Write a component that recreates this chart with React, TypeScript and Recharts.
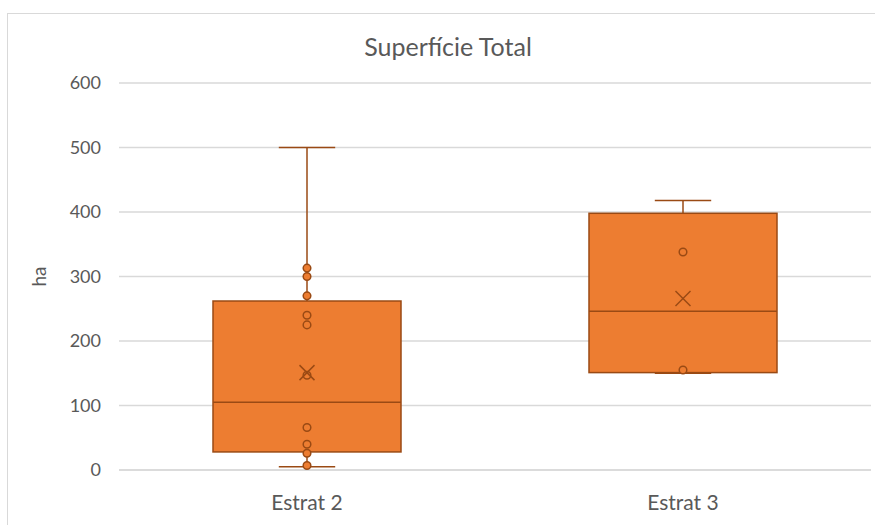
import React from 'react';
import { ComposedChart, Bar, Scatter, XAxis, YAxis, CartesianGrid, Label } from 'recharts';

// box-and-whisker stats
const categories = ['Estrat 2', 'Estrat 3'];
const mins = [5, 150];
const q1s = [28, 151];
const medians = [105, 246];
const q3s = [262, 398];
const maxes = [500, 418];
const means = [151, 266];
const estrat2Points = [313, 300, 270, 240, 225, 147, 66, 40, 26, 7];
const estrat3Points = [338, 155];
const yTicks = [0, 100, 200, 300, 400, 500, 600];

const FILL = '#ED7D31';
const LINE = '#9A4A14';
const TEXT = '#595959';
const GRID = '#D9D9D9';
const FONT = 'Lato, sans-serif';

const boxData = categories.map((cat, i) => ({
  cat,
  min: mins[i],
  q1: q1s[i],
  median: medians[i],
  q3: q3s[i],
  max: maxes[i],
}));

const pointData = [
  ...estrat2Points.map((value) => ({ cat: categories[0], value })),
  ...estrat3Points.map((value) => ({ cat: categories[1], value })),
];

const meanData = categories.map((cat, i) => ({ cat, value: means[i] }));

// bar spans min..max, so map the other stats inside that pixel range
const BoxShape = (props: any) => {
  const { x, y, width, height, payload } = props;
  const top = Math.min(y, y + height);
  const bottom = Math.max(y, y + height);
  const { min, q1, median, q3, max } = payload;
  const py = (v: number) => bottom - ((bottom - top) * (v - min)) / (max - min);
  const cx = x + width / 2;
  const capHalf = width * 0.15;
  return (
    <g>
      <line x1={cx} x2={cx} y1={py(max)} y2={py(q3)} stroke={LINE} strokeWidth={1.5} />
      <line x1={cx} x2={cx} y1={py(q1)} y2={py(min)} stroke={LINE} strokeWidth={1.5} />
      <line x1={cx - capHalf} x2={cx + capHalf} y1={py(max)} y2={py(max)} stroke={LINE} strokeWidth={1.5} />
      <line x1={cx - capHalf} x2={cx + capHalf} y1={py(min)} y2={py(min)} stroke={LINE} strokeWidth={1.5} />
      <rect x={x} y={py(q3)} width={width} height={py(q1) - py(q3)} fill={FILL} stroke={LINE} strokeWidth={1.5} />
      <line x1={x} x2={x + width} y1={py(median)} y2={py(median)} stroke={LINE} strokeWidth={1.5} />
    </g>
  );
};

const PointShape = (props: any) => (
  <circle cx={props.cx} cy={props.cy} r={3.8} fill={FILL} stroke={LINE} strokeWidth={1.5} />
);

const MeanShape = (props: any) => {
  const { cx, cy } = props;
  const s = 7.5;
  return (
    <g stroke={LINE} strokeWidth={1.5}>
      <line x1={cx - s} y1={cy - s} x2={cx + s} y2={cy + s} />
      <line x1={cx - s} y1={cy + s} x2={cx + s} y2={cy - s} />
    </g>
  );
};

export default function App() {
  return (
    <div style={{ width: 875, height: 525, boxSizing: 'border-box', paddingTop: 13, paddingLeft: 7, background: '#fff' }}>
      <style>{'body { margin: 0; }'}</style>
      <div
        style={{
          position: 'relative',
          width: 867,
          height: 511,
          borderTop: `1px solid ${GRID}`,
          borderLeft: `1px solid ${GRID}`,
          fontFamily: FONT,
        }}
      >
        <div
          style={{
            position: 'absolute',
            top: 17,
            left: 0,
            width: 880,
            textAlign: 'center',
            fontSize: 25,
            lineHeight: '30px',
            color: TEXT,
          }}
        >
          Superfície Total
        </div>
        <ComposedChart
          width={866}
          height={505}
          data={boxData}
          margin={{ top: 69, right: 3, left: 0, bottom: 19 }}
          barCategoryGap="25%"
        >
          <CartesianGrid vertical={false} stroke={GRID} strokeWidth={1.5} />
          <XAxis
            dataKey="cat"
            allowDuplicatedCategory={false}
            axisLine={{ stroke: GRID, strokeWidth: 1.5 }}
            tickLine={false}
            tickMargin={19}
            tick={{ fontSize: 21, fill: TEXT, fontFamily: FONT }}
          />
          <YAxis
            type="number"
            domain={[0, 600]}
            ticks={yTicks}
            width={111}
            axisLine={false}
            tickLine={false}
            tickMargin={12}
            tick={{ fontSize: 18, fill: TEXT, fontFamily: FONT }}
          >
            <Label
              content={({ viewBox }: any) => {
                const lx = viewBox.x + 30;
                const ly = viewBox.y + viewBox.height / 2;
                return (
                  <text
                    x={lx}
                    y={ly}
                    transform={`rotate(-90 ${lx} ${ly})`}
                    textAnchor="middle"
                    dominantBaseline="central"
                    fontSize={19}
                    fill={TEXT}
                    fontFamily={FONT}
                  >
                    ha
                  </text>
                );
              }}
            />
          </YAxis>
          <Bar
            dataKey={(d: any) => [d.min, d.max]}
            shape={<BoxShape />}
            isAnimationActive={false}
          />
          <Scatter data={pointData} dataKey="value" shape={<PointShape />} isAnimationActive={false} />
          <Scatter data={meanData} dataKey="value" shape={<MeanShape />} isAnimationActive={false} />
        </ComposedChart>
      </div>
    </div>
  );
}
